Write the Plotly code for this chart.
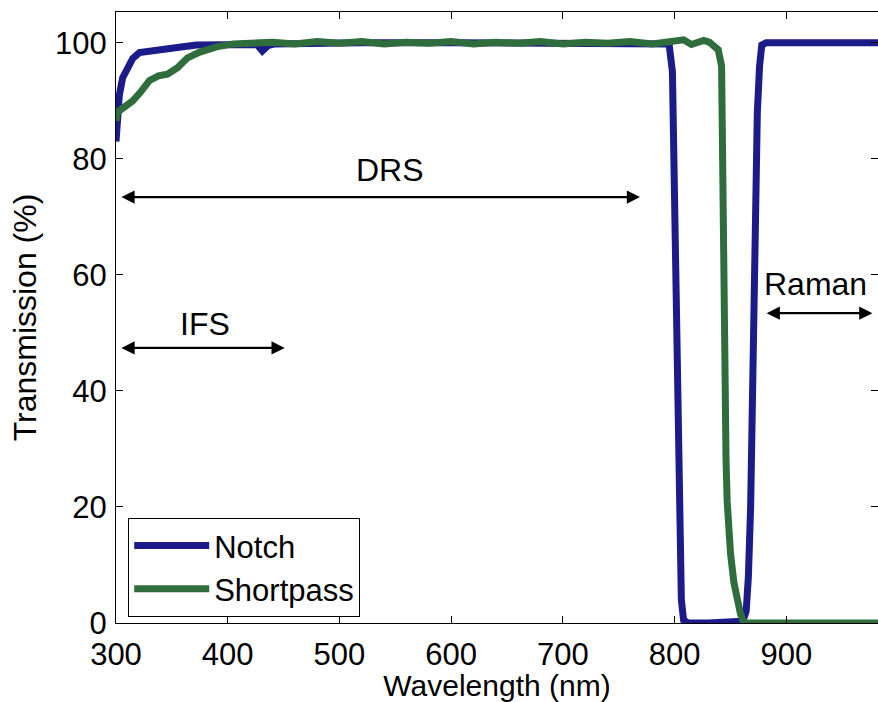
import plotly.graph_objects as go

# Notch filter transmission (%)
notch_wl = [300, 301, 303, 306, 310, 315, 321, 330, 345, 360, 372, 390, 410, 426, 431, 436, 442, 470, 520, 600,
            700, 795, 798, 800, 802, 804, 806, 808, 812, 830, 855, 861, 864, 866, 868, 870, 872, 874, 876, 878,
            882, 920, 982]
notch_t = [83, 87, 91, 94, 95.8, 97.3, 98.3, 98.6, 99.0, 99.3, 99.6, 99.7, 99.8, 99.7, 98.6, 99.5, 99.8, 99.9, 100, 100,
           100, 99.8, 95, 70, 40, 15, 4, 0.5, 0, 0, 0, 0.3, 2, 8, 20, 45, 73, 88, 96, 99.6,
           100, 100, 100]

# Shortpass filter transmission (%)
short_wl = [300, 301, 308, 315, 322, 330, 338, 346, 355, 364, 375, 390, 405, 420, 440, 460, 480, 500, 520, 540,
            560, 580, 600, 620, 640, 660, 680, 700, 720, 740, 760, 780, 800, 808, 815, 820, 826, 831, 835, 839,
            842, 843.5, 845, 846, 847, 848.5, 850, 853, 856, 859, 862, 870, 920, 982]
short_t = [86.5, 88, 89, 90, 91.5, 93.5, 94.3, 94.6, 95.7, 97.4, 98.4, 99.3, 99.8, 99.9, 100.1, 99.8, 100.2, 99.9, 100.2, 99.8,
           100.1, 99.9, 100.2, 99.8, 100.1, 99.9, 100.2, 99.8, 100.1, 99.9, 100.2, 99.8, 100.1, 100.5, 99.7, 99.9, 100.4, 100.1, 99.6, 98.8,
           96, 60, 40, 28, 21, 15, 12, 7, 4, 1.5, 0, 0, 0, 0]

x_ticks = [300, 400, 500, 600, 700, 800, 900]
y_ticks = [0, 20, 40, 60, 80, 100]

FONT = "Liberation Sans, Arial, Helvetica, sans-serif"
BLUE = "#1b1b8a"
GREEN = "#2f6e3c"

fig = go.Figure()
fig.add_trace(go.Scatter(x=notch_wl, y=notch_t, mode="lines", name="Notch",
                         line=dict(color=BLUE, width=7)))
fig.add_trace(go.Scatter(x=short_wl, y=short_t, mode="lines", name="Shortpass",
                         line=dict(color=GREEN, width=7)))

# Double-headed range arrows with labels
arrows = [
    dict(x0=303.5, x1=769, y=73.4, label="DRS", lx=545, ly=78.0),
    dict(x0=303.5, x1=451, y=47.4, label="IFS", lx=380, ly=51.6),
    dict(x0=881, x1=977, y=53.4, label="Raman", lx=926, ly=58.4),
]
for a in arrows:
    fig.add_annotation(x=a["x1"], y=a["y"], ax=a["x0"], ay=a["y"], axref="x", ayref="y",
                       xref="x", yref="y", text="", showarrow=True,
                       arrowhead=2, arrowsize=1.2, arrowwidth=2.2, arrowcolor="black",
                       arrowside="end+start", startarrowhead=2, startarrowsize=1.2)
    fig.add_annotation(x=a["lx"], y=a["ly"], xref="x", yref="y", text=a["label"], showarrow=False,
                       font=dict(family=FONT, size=32, color="black"))

fig.update_layout(
    width=878, height=702,
    margin=dict(l=116, r=0, t=12, b=79),
    paper_bgcolor="white", plot_bgcolor="white",
    font=dict(family=FONT, size=31, color="black"),
    showlegend=True,
    legend=dict(x=0.016, y=0.01, xanchor="left", yanchor="bottom",
                bgcolor="white", bordercolor="black", borderwidth=1,
                font=dict(family=FONT, size=31, color="black"),
                itemwidth=75, tracegroupgap=0),
    xaxis=dict(range=[300, 982], tickvals=x_ticks, ticks="inside", ticklen=7,
               tickcolor="black", showline=True, linecolor="black", linewidth=1,
               mirror="ticks", showgrid=False, zeroline=False,
               tickfont=dict(size=31), ticklabelstandoff=4,
               title=dict(text="Wavelength (nm)", font=dict(size=30), standoff=7)),
    yaxis=dict(range=[0, 105.3], tickvals=y_ticks, ticks="inside", ticklen=7,
               tickcolor="black", showline=True, linecolor="black", linewidth=1,
               mirror="ticks", showgrid=False, zeroline=False,
               tickfont=dict(size=31), ticklabelstandoff=2,
               title=dict(text="Transmission (%)", font=dict(size=32), standoff=8)),
)

fig.write_html("out.html")
